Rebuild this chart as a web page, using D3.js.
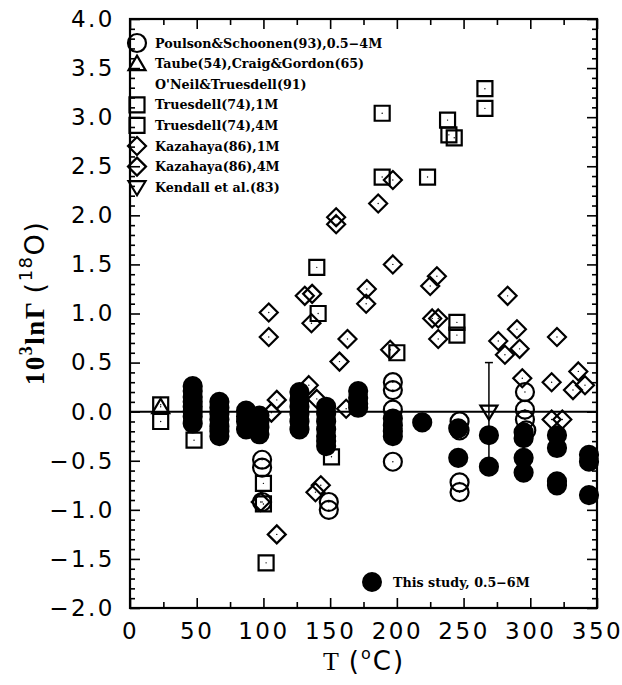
<!DOCTYPE html>
<html><head><meta charset="utf-8">
<script src="https://cdn.jsdelivr.net/npm/d3@7"></script>
<style>body{margin:0;background:#fff}</style>
</head><body>
<svg id="c" width="622" height="685"></svg>
<script>
// ---- data ----
const xTicks = [0,50,100,150,200,250,300,350];
const yTicks = [-2.0,-1.5,-1.0,-0.5,0.0,0.5,1.0,1.5,2.0,2.5,3.0,3.5,4.0];

// This study, 0.5-6M (filled circles)
const studyT = [47,47,47,47,47,47,47,47, 67,67,67,67,67,67,67, 87,87,87,87, 97,97,97,97,
  127,127,127,127,127,127, 147,147,147,147,147,147,147, 171,171,171,171,
  197,197,197,197, 219, 246,246, 269,269, 295,295,295,295, 320,320,320,320, 344,344,344];
const studyV = [0.26,0.21,0.15,0.10,0.05,0.0,-0.05,-0.12, 0.10,0.04,-0.02,-0.08,-0.15,-0.20,-0.25,
  0.01,-0.05,-0.10,-0.18, -0.04,-0.10,-0.16,-0.23,
  0.20,0.12,0.05,-0.02,-0.10,-0.18, 0.05,-0.02,-0.10,-0.18,-0.25,-0.30,-0.35, 0.21,0.14,0.08,0.04,
  -0.07,-0.14,-0.20,-0.25, -0.11, -0.17,-0.47, -0.24,-0.56, -0.21,-0.27,-0.47,-0.62,
  -0.24,-0.37,-0.71,-0.75, -0.44,-0.51,-0.85];

// Poulson & Schoonen (93) (open circles)
const poulsonT = [99,99,99, 149,149, 197,197,197,197, 247,247,247,247, 296,296,296,297];
const poulsonV = [-0.49,-0.57,-0.92, -0.92,-1.0, 0.30,0.22,0.02,-0.51, -0.10,-0.19,-0.72,-0.82, 0.20,0.02,-0.08,-0.19];

// Taube(54), Craig & Gordon(65), O'Neil & Truesdell(91) (triangles)
const taubeT = [23];
const taubeV = [0.05];

// Truesdell(74) 1M and 4M (squares)
const trues1T = [23,48,100,100,102,151,140,141,200,245,245];
const trues1V = [0.07,-0.29,-0.73,-0.94,-1.54,-0.46,1.47,1.0,0.6,0.91,0.78];
const trues4T = [23,189,189,223,238,239,243,266,266];
const trues4V = [-0.10,3.04,2.39,2.39,2.97,2.82,2.79,3.29,3.09];

// Kazahaya(86) 1M and 4M (diamonds)
const kaz1T = [106,110,134,140,162,98,110,139,143,195,157,163,276,281,292,294,316,316,324,332,336,341,290,320];
const kaz1V = [-0.01,0.12,0.27,0.13,0.03,-0.92,-1.25,-0.82,-0.75,0.63,0.51,0.74,0.72,0.58,0.64,0.34,0.30,-0.08,-0.08,0.22,0.41,0.27,0.84,0.76];
const kaz4T = [104,104,131,136.5,136,154.5,154.5,177.5,177,186,197,197,225,230,226.5,231,231,283];
const kaz4V = [1.01,0.76,1.18,1.20,0.90,1.98,1.91,1.25,1.10,2.12,2.36,1.50,1.28,1.38,0.95,0.95,0.74,1.18];

// Kendall et al.(83) (inverted triangle, with error bar)
const kendallT = [269];
const kendallV = [0.0];
const kendallLo = [-0.5];
const kendallHi = [0.5];

const legendLabels = ["Poulson&Schoonen(93),0.5\u22124M","Taube(54),Craig&Gordon(65)","O'Neil&Truesdell(91)",
  "Truesdell(74),1M","Truesdell(74),4M","Kazahaya(86),1M","Kazahaya(86),4M","Kendall et al.(83)"];
const legendSymbols = ["circle","triangle","none","square","square","diamond","diamond","down"];

// ---- drawing ----
const svg = d3.select("#c");
const x = d3.scaleLinear([0,350],[130,597]);
const y = d3.scaleLinear([-2,4],[608,19]);
const L = 130, R = 597, T = 19, B = 608;
const ink = "#000";

const zip = (a,b) => a.map((v,i)=>[v,b[i]]);

// axes
const tickFont = "'DejaVu Sans', sans-serif";
function styleAxis(g){ g.select(".domain").remove(); g.selectAll("line").attr("stroke",ink).attr("stroke-width",1.6);
  g.selectAll("text").attr("font-family",tickFont).attr("font-size",23).attr("fill",ink).attr("letter-spacing","2.5px"); }

const xMinor = d3.range(0,351,25).filter(v=>v%50!==0);
const yMinor = d3.range(-20,41,1).map(v=>v/10).filter(v=>Math.abs(Math.round(v*10))%5!==0);

svg.append("g").attr("transform",`translate(0,${B})`)
  .call(d3.axisBottom(x).tickValues(xTicks).tickSize(-10).tickPadding(15).tickFormat(d3.format("d"))).call(styleAxis);
svg.append("g").attr("transform",`translate(0,${B})`)
  .call(d3.axisBottom(x).tickValues(xMinor).tickSize(-6).tickFormat("")).call(styleAxis);
svg.append("g").attr("transform",`translate(0,${T})`)
  .call(d3.axisTop(x).tickValues(xTicks).tickSize(-10).tickFormat("")).call(styleAxis);
svg.append("g").attr("transform",`translate(0,${T})`)
  .call(d3.axisTop(x).tickValues(xMinor).tickSize(-6).tickFormat("")).call(styleAxis);
svg.append("g").attr("transform",`translate(${L},0)`)
  .call(d3.axisLeft(y).tickValues(yTicks).tickSize(-10).tickPadding(15).tickFormat(d3.format(".1f"))).call(styleAxis);
svg.append("g").attr("transform",`translate(${L},0)`)
  .call(d3.axisLeft(y).tickValues(yMinor).tickSize(-5).tickFormat("")).call(styleAxis);
svg.append("g").attr("transform",`translate(${R},0)`)
  .call(d3.axisRight(y).tickValues(yTicks).tickSize(-10).tickFormat("")).call(styleAxis);
svg.append("g").attr("transform",`translate(${R},0)`)
  .call(d3.axisRight(y).tickValues(yMinor).tickSize(-5).tickFormat("")).call(styleAxis);

// frame
svg.append("rect").attr("x",L).attr("y",T).attr("width",R-L).attr("height",B-T)
  .attr("fill","none").attr("stroke",ink).attr("stroke-width",2.2);
// zero line
svg.append("line").attr("x1",L).attr("x2",R).attr("y1",y(0)).attr("y2",y(0)).attr("stroke",ink).attr("stroke-width",2);

// symbol paths
const sym = {
  circle: r => d3.symbol(d3.symbolCircle, Math.PI*81)(),
  square: () => "M-7.5,-7.5H7.5V7.5H-7.5Z",
  diamond: () => "M0,-9L9,0L0,9L-9,0Z",
  triangle: () => "M0,-8L8.5,6.5H-8.5Z",
  down: () => "M0,8L8.5,-6H-8.5Z"
};
function plot(data, kind, filled){
  const g = svg.append("g");
  g.selectAll("path").data(data).join("path")
    .attr("transform",d=>`translate(${x(d[0])},${y(d[1])})`)
    .attr("d",sym[kind]())
    .attr("fill",filled?ink:"none").attr("stroke",ink).attr("stroke-width",2.2);
  if(!filled){
    g.selectAll("circle.dot").data(data).join("circle").attr("class","dot")
      .attr("cx",d=>x(d[0])).attr("cy",d=>y(d[1])).attr("r",0.7).attr("fill",ink);
  }
}

// Kendall error bar
kendallT.forEach((t,i)=>{
  svg.append("line").attr("x1",x(t)).attr("x2",x(t)).attr("y1",y(kendallHi[i])).attr("y2",y(kendallLo[i])).attr("stroke",ink).attr("stroke-width",1.5);
  svg.append("line").attr("x1",x(t)-4).attr("x2",x(t)+4).attr("y1",y(kendallHi[i])).attr("y2",y(kendallHi[i])).attr("stroke",ink).attr("stroke-width",1.5);
});

plot(zip(kaz1T,kaz1V),"diamond",false);
plot(zip(kaz4T,kaz4V),"diamond",false);
plot(zip(trues1T,trues1V),"square",false);
plot(zip(trues4T,trues4V),"square",false);
plot(zip(poulsonT,poulsonV),"circle",false);
plot(zip(taubeT,taubeV),"triangle",false);
plot(zip(kendallT,kendallV),"down",false);
plot(zip(studyT,studyV),"circle",true);

// legend
const legFont = "'DejaVu Serif', serif";
const lg = svg.append("g");
legendLabels.forEach((lab,i)=>{
  const cy = 43 + i*20.6;
  if(legendSymbols[i]!=="none"){
    lg.append("path").attr("transform",`translate(137,${cy})`).attr("d",sym[legendSymbols[i]]())
      .attr("fill","none").attr("stroke",ink).attr("stroke-width",2.2);
  }
  lg.append("text").attr("x",155).attr("y",cy).attr("dy","0.36em").text(lab)
    .attr("font-family",legFont).attr("font-weight","bold").attr("font-size",12.7).attr("fill",ink);
});
lg.append("path").attr("transform","translate(372,582)").attr("d",sym.circle()).attr("fill",ink).attr("stroke",ink).attr("stroke-width",2);
lg.append("text").attr("x",393).attr("y",582).attr("dy","0.36em").text("This study, 0.5\u22126M")
  .attr("font-family",legFont).attr("font-weight","bold").attr("font-size",12.7).attr("fill",ink);

// axis titles
const xt = svg.append("text").attr("x",364).attr("y",670).attr("text-anchor","middle").attr("font-size",26).attr("fill",ink).attr("letter-spacing","2px");
xt.append("tspan").attr("font-family","'Liberation Serif', serif").text("T ");
xt.append("tspan").attr("font-family",tickFont).text("(");
xt.append("tspan").attr("font-family",tickFont).attr("font-size",16).attr("dy",-11).text("o");
xt.append("tspan").attr("font-family",tickFont).attr("dy",11).text("C)");

const yt = svg.append("text").attr("transform","translate(44,303) rotate(-90)").attr("text-anchor","middle").attr("font-size",27).attr("fill",ink).attr("letter-spacing","1.5px");
yt.append("tspan").attr("font-family","'Liberation Serif', serif").attr("font-weight","bold").text("10");
yt.append("tspan").attr("font-family","'Liberation Serif', serif").attr("font-weight","bold").attr("font-size",18).attr("dy",-12).text("3");
yt.append("tspan").attr("font-family","'Liberation Serif', serif").attr("font-weight","bold").attr("dy",12).text("ln\u0393 ");
yt.append("tspan").attr("font-family",tickFont).text("(");
yt.append("tspan").attr("font-family",tickFont).attr("font-size",18).attr("dy",-12).text("18");
yt.append("tspan").attr("font-family",tickFont).attr("dy",12).text("O)");
</script>
</body></html>
